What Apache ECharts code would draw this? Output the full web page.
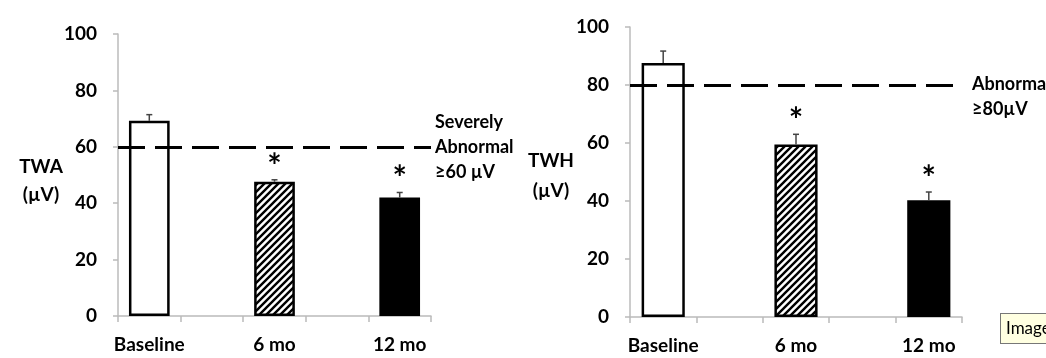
<!DOCTYPE html>
<html>
<head>
<meta charset="utf-8">
<script src="https://cdn.jsdelivr.net/npm/echarts@6/dist/echarts.min.js"></script>
<style>
  html, body { margin: 0; padding: 0; background: #fff; }
  #chart { width: 1046px; height: 358px; }
</style>
</head>
<body>
<div id="chart"></div>
<script>
// spacer categories keep the bars apart like in the original plot
const categories = ['Baseline', '', '6 mo', '', '12 mo']
const twaMean = [69.2, null, 47.6, null, 42]
const twaErr = [2.2, null, 0.7, null, 1.8]
const twhMean = [87.6, null, 59.5, null, 40.3]
const twhErr = [4.1, null, 3.5, null, 2.8]
const significant = [false, null, true, null, true]
const yTicks = [0, 20, 40, 60, 80, 100]
const twaCutoff = 60
const twhCutoff = 80

const font = 'Lato, "Open Sans", sans-serif'

// diagonal hatch fill for the 6 mo bar
const hatch = document.createElement('canvas')
hatch.width = 7
hatch.height = 7
const hctx = hatch.getContext('2d')
hctx.fillStyle = '#fff'
hctx.fillRect(0, 0, 7, 7)
hctx.strokeStyle = '#000'
hctx.lineWidth = 2.4
hctx.beginPath()
hctx.moveTo(-1, 1); hctx.lineTo(1, -1)
hctx.moveTo(0, 7); hctx.lineTo(7, 0)
hctx.moveTo(6, 8); hctx.lineTo(8, 6)
hctx.stroke()

const fills = ['#fff', null, { image: hatch, repeat: 'repeat' }, null, '#000']

const barData = vals => vals.map((v, i) => v == null ? null : {
  value: v,
  itemStyle: { color: fills[i] }
})

const errData = (mean, err) => mean.map((v, i) => v == null ? [i, null, null, 0] : [i, v, v + err[i], significant[i] ? 1 : 0])

const renderErr = (params, api) => {
  if (api.value(1) == null || isNaN(api.value(1))) return
  const base = api.coord([api.value(0), api.value(1)])
  const top = api.coord([api.value(0), api.value(2)])
  const children = [
    { type: 'line', shape: { x1: base[0], y1: base[1], x2: top[0], y2: top[1] }, style: { stroke: '#444', lineWidth: 1.5 } },
    { type: 'line', shape: { x1: top[0] - 3, y1: top[1], x2: top[0] + 3, y2: top[1] }, style: { stroke: '#444', lineWidth: 1.5 } }
  ]
  if (api.value(3)) {
    children.push({
      type: 'text',
      x: top[0], y: top[1] - 13,
      style: { text: '*', fill: '#000', font: 'bold 34px ' + font, align: 'center', verticalAlign: 'middle' }
    })
  }
  return { type: 'group', children }
}

const axisFont = { color: '#000', fontFamily: font, fontWeight: 'bold', fontSize: 19 }

const xAxisFor = idx => ({
  type: 'category', gridIndex: idx, data: categories,
  axisLine: { lineStyle: { color: '#bbb', width: 1.5 } },
  axisTick: { show: true, length: 6, lineStyle: { color: '#bbb', width: 1.5 }, alignWithLabel: false, interval: 0 },
  axisLabel: Object.assign({ margin: 19, interval: 0 }, axisFont)
})

const yAxisFor = idx => ({
  type: 'value', gridIndex: idx, min: 0, max: 100, interval: 20,
  splitLine: { show: false },
  axisLine: { show: true, lineStyle: { color: '#bbb', width: 1.5 } },
  axisTick: { show: true, length: 5, lineStyle: { color: '#bbb', width: 1.5 } },
  axisLabel: Object.assign({ margin: 21, formatter: v => yTicks.includes(v) ? String(v) : '' }, axisFont)
})

const cutoffLine = (val, text, offset) => ({
  symbol: 'none',
  silent: true,
  lineStyle: { color: '#000', width: 3, type: [27, 10] },
  label: {
    position: 'end', distance: 4, offset,
    formatter: text, color: '#000', fontFamily: font, fontWeight: 'bold',
    fontSize: 18, lineHeight: 25, align: 'left'
  },
  data: [{ yAxis: val }]
})

const chart = echarts.init(document.getElementById('chart'), null, { renderer: 'canvas' })
chart.setOption({
  animation: false,
  backgroundColor: '#fff',
  grid: [
    { left: 118, right: 615, top: 34, bottom: 42 },
    { left: 630, right: 84, top: 27, bottom: 41 }
  ],
  title: [
    { text: 'TWA\n(µV)', left: 36, top: 148, textAlign: 'center', textStyle: { color: '#000', fontFamily: font, fontWeight: 'bold', fontSize: 19, lineHeight: 28 } },
    { text: 'TWH\n(µV)', left: 546, top: 141, textAlign: 'center', textStyle: { color: '#000', fontFamily: font, fontWeight: 'bold', fontSize: 19, lineHeight: 30 } }
  ],
  xAxis: [xAxisFor(0), xAxisFor(1)],
  yAxis: [yAxisFor(0), yAxisFor(1)],
  series: [
    {
      type: 'bar', xAxisIndex: 0, yAxisIndex: 0, barWidth: '65%',
      itemStyle: { borderColor: '#000', borderWidth: 2.5 },
      data: barData(twaMean),
      markLine: cutoffLine(twaCutoff, 'Severely\nAbnormal\n≥60 µV', [0, 0])
    },
    {
      type: 'custom', xAxisIndex: 0, yAxisIndex: 0, z: 3,
      renderItem: renderErr, data: errData(twaMean, twaErr)
    },
    {
      type: 'bar', xAxisIndex: 1, yAxisIndex: 1, barWidth: '65%',
      itemStyle: { borderColor: '#000', borderWidth: 2.5 },
      data: barData(twhMean),
      markLine: cutoffLine(twhCutoff, 'Abnormal\n≥80µV', [6, 12])
    },
    {
      type: 'custom', xAxisIndex: 1, yAxisIndex: 1, z: 3,
      renderItem: renderErr, data: errData(twhMean, twhErr)
    }
  ],
  graphic: [
    {
      type: 'text', left: 1000, top: 313, z: 10,
      style: { text: 'Image', fill: '#000', font: '17px ' + font, backgroundColor: '#ffffe1', borderColor: '#777', borderWidth: 1, padding: [6, 5] }
    }
  ]
})
</script>
</body>
</html>
